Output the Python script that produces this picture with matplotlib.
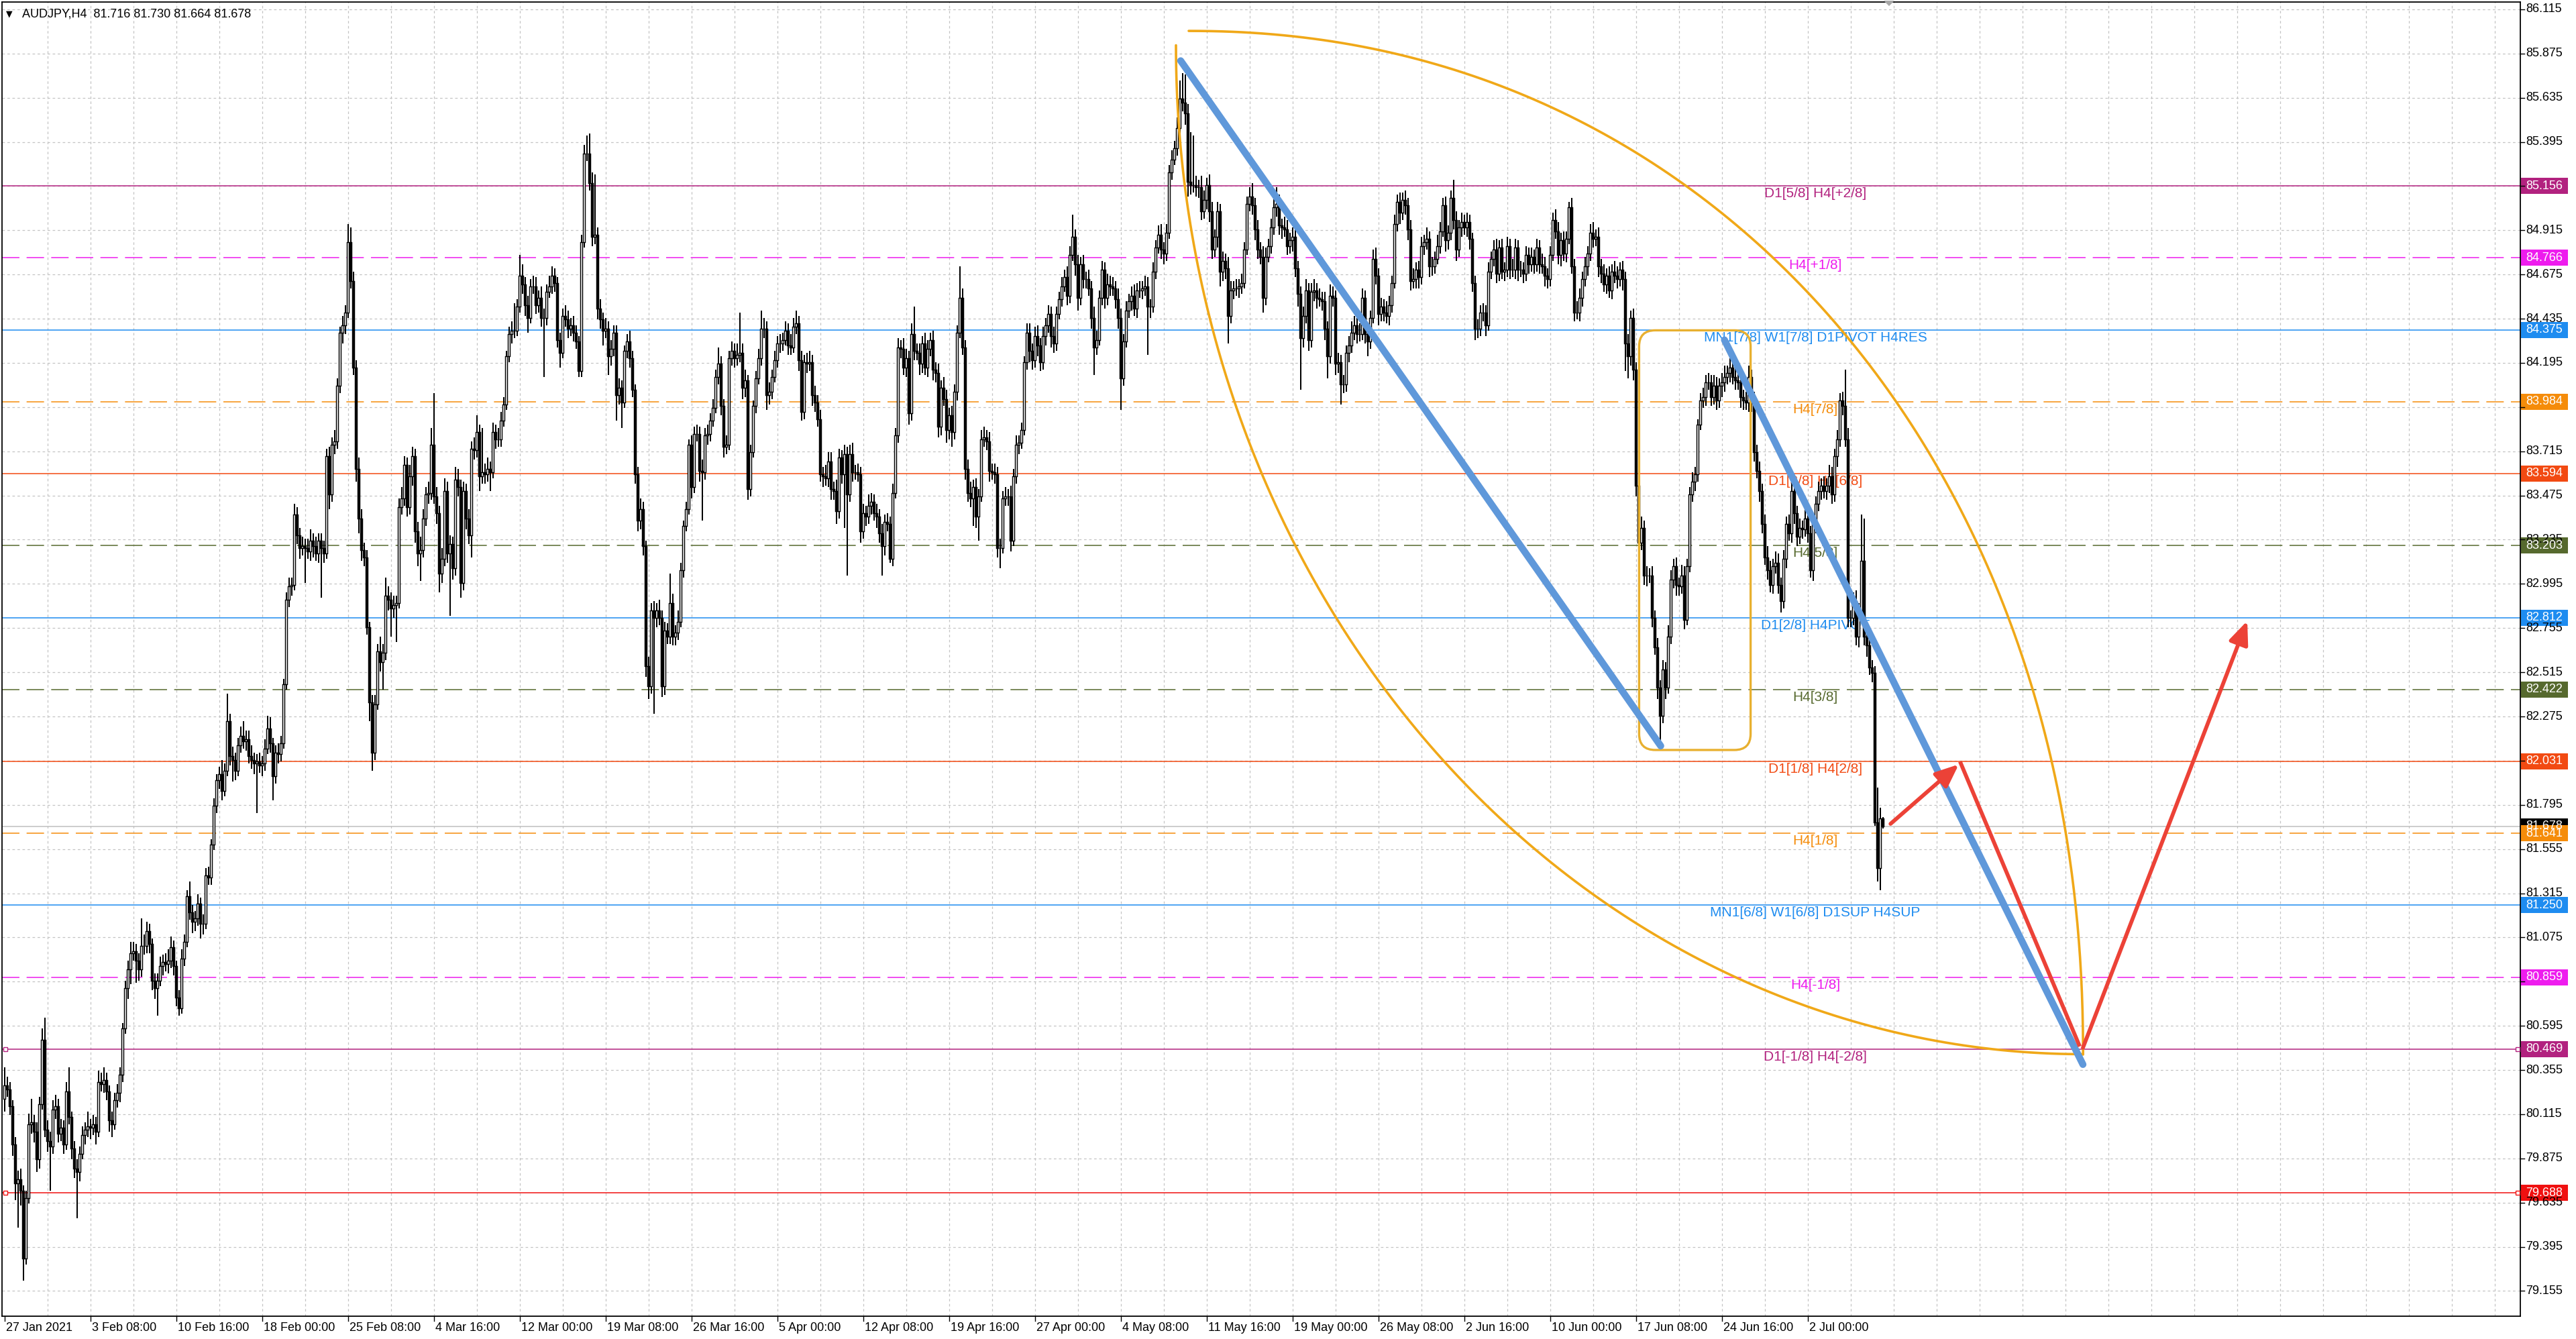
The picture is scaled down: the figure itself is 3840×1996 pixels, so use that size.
import numpy as np
import matplotlib
matplotlib.use("Agg")
import matplotlib.pyplot as plt
from matplotlib.patches import Rectangle, FancyBboxPatch, Polygon
import matplotlib.transforms as mtransforms

W, H, DPI = 3840, 1996, 100
FONT = "Liberation Sans"

# ---------------- data (AUDJPY H4 candles, bar index 0..700) ----------------
OPEN0 = 80.20
CLOSE_A = [80.27, 80.25, 80.16, 79.95, 79.74, 79.76, 79.70, 79.33, 79.66, 80.06,
           80.07, 80.02, 79.87, 80.17, 80.52, 80.03, 79.97, 79.94, 80.14, 80.16,
           80.01, 80.04, 79.95, 80.24, 80.10, 79.93, 79.82, 79.80, 79.90, 80.00,
           80.03, 80.05, 80.04, 80.06, 80.02, 80.29, 80.28, 80.30, 80.24, 80.08,
           80.06, 80.19, 80.23, 80.33, 80.58, 80.80, 80.90, 80.99, 81.00, 80.95,
           80.90, 81.03, 81.03, 81.11, 81.04, 80.84, 80.80, 80.84, 80.92, 80.94,
           80.93, 80.95, 81.02, 80.92, 80.75, 80.69, 80.96, 81.05, 81.30, 81.21,
           81.16, 81.18, 81.26, 81.15, 81.15, 81.41, 81.40, 81.58, 81.79, 81.93,
           81.96, 81.87, 81.98, 82.25, 82.06, 82.04, 81.98, 82.12, 82.17, 82.14,
           82.15, 82.06, 82.04, 82.02, 82.03, 82.01, 82.02, 82.10, 82.21, 82.13,
           81.95, 82.08, 82.07, 82.13, 82.45, 82.91, 82.98, 82.99, 83.37, 83.26,
           83.19, 83.20, 83.19, 83.17, 83.23, 83.20, 83.16, 83.23, 83.19, 83.16,
           83.69, 83.48, 83.75, 83.77, 84.07, 84.36, 84.40, 84.47, 84.85, 84.64,
           84.17, 83.62, 83.35, 83.18, 83.14, 82.76, 82.35, 82.08, 82.34, 82.63,
           82.57, 82.62, 82.93, 82.91, 82.86, 82.88, 82.89, 83.41, 83.46, 83.64,
           83.41, 83.58, 83.69, 83.28, 83.16, 83.18, 83.35, 83.48, 83.49, 83.75,
           83.47, 83.38, 83.05, 83.13, 83.50, 83.16, 83.21, 83.08, 83.56, 83.52,
           83.00, 83.50, 83.35, 83.26, 83.73, 83.72, 83.82, 83.58]
CLOSE_B = [83.60, 83.59, 83.62, 83.60, 83.82, 83.78, 83.78, 83.88, 83.97, 84.23,
           84.35, 84.37, 84.37, 84.50, 84.67, 84.62, 84.51, 84.44, 84.61, 84.61,
           84.51, 84.55, 84.44, 84.44, 84.58, 84.61, 84.67, 84.63, 84.32, 84.25,
           84.45, 84.43, 84.38, 84.40, 84.36, 84.31, 84.15, 84.85, 85.33, 85.33,
           85.17, 84.88, 84.89, 84.49, 84.43, 84.37, 84.38, 84.23, 84.27, 84.36,
           84.02, 84.06, 83.98, 84.26, 84.31, 84.22, 84.05, 83.59, 83.34, 83.40,
           83.20, 82.55, 82.44, 82.85, 82.81, 82.85, 82.81, 82.44, 82.74, 82.71,
           82.89, 82.71, 82.73, 82.79, 83.07, 83.31, 83.40, 83.75, 83.52, 83.81,
           83.81, 83.61, 83.60, 83.80, 83.81, 83.88, 83.95, 84.12, 84.19, 83.96,
           83.74, 83.75, 84.22, 84.26, 84.22, 84.24, 84.25, 84.06, 84.10, 83.51,
           83.71, 83.96, 84.11, 84.22, 84.38, 84.38, 84.02, 84.04, 84.12, 84.21,
           84.30, 84.30, 84.32, 84.37, 84.29, 84.28, 84.39, 84.41, 84.21, 83.93,
           84.20, 84.19, 84.20, 84.02, 83.98, 83.89, 83.59, 83.58, 83.57, 83.66,
           83.51, 83.50, 83.39, 83.68, 83.59, 83.70, 83.48, 83.70, 83.60, 83.60,
           83.59, 83.28, 83.38, 83.36, 83.42, 83.44, 83.38, 83.36, 83.27, 83.20,
           83.33, 83.32, 83.13, 83.49, 83.80, 84.28, 84.27, 84.17, 84.22, 83.92,
           84.35, 84.26, 84.25, 84.19, 84.30, 84.17, 84.27, 84.32, 84.16, 84.14,
           83.85, 84.06, 84.00, 83.83, 83.91]
CLOSE_C = [83.82, 84.04, 84.36, 84.55, 84.28, 83.62, 83.49, 83.46, 83.52, 83.36,
           83.47, 83.78, 83.79, 83.77, 83.61, 83.60, 83.59, 83.19, 83.19, 83.46,
           83.47, 83.47, 83.23, 83.58, 83.75, 83.76, 83.83, 84.20, 84.36, 84.26,
           84.21, 84.34, 84.29, 84.20, 84.34, 84.40, 84.46, 84.34, 84.30, 84.46,
           84.54, 84.61, 84.66, 84.56, 84.78, 84.88, 84.73, 84.55, 84.73, 84.65,
           84.65, 84.60, 84.44, 84.28, 84.32, 84.55, 84.70, 84.55, 84.62, 84.61,
           84.60, 84.54, 84.44, 84.11, 84.31, 84.48, 84.53, 84.56, 84.49, 84.59,
           84.59, 84.60, 84.61, 84.50, 84.50, 84.69, 84.82, 84.89, 84.81, 84.79,
           84.90, 85.23, 85.30, 85.36, 85.47, 85.63, 85.61, 85.55, 85.18, 85.16,
           85.16, 85.15, 85.15, 85.02, 85.08, 85.16, 85.02, 84.81, 84.88, 85.02,
           84.69, 84.75, 84.71, 84.45, 84.59, 84.60, 84.60, 84.61, 84.63, 84.81,
           85.06, 85.10, 85.05, 84.92, 84.81, 84.77, 84.55, 84.77, 84.83, 84.93,
           85.04, 85.06, 84.94, 84.93, 84.92, 84.83, 84.86, 84.88, 84.71, 84.57,
           84.33, 84.45, 84.59, 84.32, 84.58, 84.59, 84.55, 84.54, 84.53, 84.38,
           84.23, 84.56, 84.55, 84.19, 84.20, 84.08, 84.08, 84.25, 84.29, 84.36,
           84.40, 84.35, 84.35, 84.55, 84.35, 84.31, 84.44, 84.76, 84.67, 84.46,
           84.50, 84.47, 84.45, 84.51, 84.63, 84.95, 85.07, 85.01, 85.08, 85.05,
           84.92, 84.64, 84.65, 84.70, 84.66]
CLOSE_D = [84.83, 84.85, 84.87, 84.72, 84.72, 84.76, 84.83, 84.91, 85.05, 84.86,
           84.90, 85.09, 84.97, 84.81, 84.93, 84.96, 84.93, 84.96, 84.87, 84.63,
           84.38, 84.38, 84.47, 84.47, 84.40, 84.69, 84.76, 84.81, 84.68, 84.82,
           84.69, 84.70, 84.83, 84.70, 84.70, 84.82, 84.70, 84.70, 84.68, 84.78,
           84.73, 84.77, 84.73, 84.82, 84.73, 84.72, 84.67, 84.65, 84.78, 84.97,
           84.91, 84.78, 84.86, 84.79, 84.87, 85.04, 84.72, 84.47, 84.47, 84.55,
           84.65, 84.72, 84.79, 84.90, 84.87, 84.88, 84.72, 84.68, 84.62, 84.67,
           84.59, 84.69, 84.67, 84.65, 84.70, 84.65, 84.30, 84.23, 84.44, 84.16,
           83.53, 83.22, 83.30, 83.04, 83.04, 83.04, 82.81, 82.65, 82.43, 82.28,
           82.53, 82.43, 82.71, 83.02, 83.09, 82.99, 82.98, 83.04, 82.80, 83.09,
           83.48, 83.55, 83.59, 83.86, 83.99, 84.01, 84.09, 84.09, 84.01, 84.07,
           83.99, 84.07, 84.09, 84.12, 84.14, 84.17, 84.12, 84.10, 84.09, 84.01,
           83.99, 83.98, 84.12, 83.99, 83.71, 83.61, 83.50, 83.32, 83.14, 83.07,
           82.99, 83.09, 83.11, 82.99, 82.90, 83.13, 83.32, 83.27, 83.50, 83.38,
           83.25, 83.30, 83.29, 83.35, 83.27, 83.07, 83.32, 83.43, 83.50, 83.53,
           83.50, 83.53, 83.58, 83.48, 83.69, 83.78, 83.99, 83.96, 83.78, 82.81,
           82.81, 82.90, 82.71, 82.84, 83.12, 82.71, 82.66, 82.54, 82.51, 81.70,
           81.45, 81.72, 81.678]

# upper / lower shadow lengths, in hundredths of a yen
UP_A = [10,5,4,3,4,5,6,3,4,6, 13,4,5,4,6,12,5,5,5,6, 4,5,4,5,13,3,4,5,4,5,
        4,8,4,5,4,6,5,7,4,3, 5,4,5,4,3,4,5,6,5,4, 4,15,6,5,4,3,4,4,5,4,
        5,6,6,4,3,4,5,4,3,8, 4,4,5,3,5,4,5,3,4,3, 4,8,4,15,4,5,4,4,5,8,
        5,5,6,4,4,5,4,5,7,6, 3,4,5,4,3,4,5,4,6,4, 4,5,4,5,6,4,5,4,4,4,
        4,5,4,6,4,3,5,4,10,8, 5,4,6,5,4,4,3,4,5,4, 8,5,10,5,4,5,4,5,6,5,
        4,6,5,4,5,7,5,4,6,9, 28,5,4,6,7,5,5,4,7,6, 4,5,4,5,4,6,9,4]
DN_A = [7,4,5,6,9,24,8,12,3,3, 5,6,7,5,3,4,6,24,4,5, 5,4,5,3,4,6,5,25,5,3,
        5,4,6,4,7,3,4,5,5,6, 7,3,4,5,4,3,6,8,4,12, 6,4,5,4,5,5,6,15,3,5,
        4,5,4,5,5,4,3,4,3,4, 6,5,4,8,6,3,4,4,3,4, 5,5,3,3,5,12,5,3,4,4,
        5,4,5,6,27,4,6,4,3,5, 13,4,5,4,3,3,4,5,3,5, 6,4,19,4,5,6,4,5,27,5,
        3,8,4,5,4,4,6,5,3,4, 4,7,8,6,5,4,10,10,4,3, 5,15,4,6,15,5,20,3,4,4,
        5,4,5,6,7,15,4,4,5,4, 4,6,10,5,4,5,34,6,4,5, 8,4,6,5,12,5,4,8]
UP_B = [24,5,6,4,5,4,6,5,4,3, 4,5,15,4,11,6,4,5,4,6, 5,4,6,5,4,6,5,4,3,4,
        4,6,5,4,5,4,3,4,5,10, 11,6,33,4,5,4,6,4,5,4, 4,5,4,3,4,6,4,3,4,6,
        4,3,5,4,5,4,6,4,5,4, 16,5,4,6,4,3,4,3,5,4, 5,4,6,4,5,4,5,4,9,4,
        4,5,4,5,4,6,22,5,6,3, 4,3,4,5,10,6,4,5,4,5, 4,5,4,5,4,6,5,7,4,5,
        4,5,6,4,5,4,5,4,6,5, 5,4,6,5,4,5,4,5,6,4, 5,4,5,4,6,5,4,5,4,5,
        4,5,4,5,4,5,4,6,5,4, 6,15,4,5,4,6,5,4,5,4, 5,4,6,5,4]
DN_B = [4,5,4,10,3,5,4,4,3,3, 3,5,4,3,3,5,6,8,3,4, 5,4,5,32,4,3,4,5,4,8,
        3,4,5,4,5,4,3,3,3,4, 4,5,4,6,5,8,4,10,5,4, 14,5,14,3,4,5,4,5,6,5,
        5,6,7,4,52,5,4,6,5,4, 4,5,5,4,3,4,3,3,6,3, 4,6,26,4,5,4,3,3,4,5,
        6,4,3,4,5,4,4,6,5,6, 4,3,4,3,4,5,8,5,4,3, 4,5,4,3,5,4,3,4,6,5,
        4,5,4,6,5,4,4,6,4,5, 6,5,7,4,5,29,44,4,5,4, 4,6,4,5,4,5,4,6,5,16,
        5,4,2,4,3,4,5,4,5,6, 4,5,4,6,5,4,5,4,6,5, 6,5,4,7,5]
UP_C = [5,4,4,17,5,4,5,6,4,5, 4,5,6,4,5,4,5,4,5,4, 5,4,6,4,5,4,4,3,5,5,
        4,5,6,4,5,4,5,4,5,4, 4,5,4,6,5,12,4,5,4,5, 4,5,4,6,5,4,5,4,6,5,
        5,4,6,5,4,5,4,5,6,4, 5,4,6,5,4,5,4,5,6,4, 5,4,5,4,6,10,14,15,5,27,
        27,5,4,6,5,4,6,5,4,5, 4,5,4,6,5,4,5,4,5,4, 4,5,7,4,5,4,6,5,4,5,
        5,9,5,4,6,5,4,5,6,4, 4,5,6,4,5,6,4,5,4,5, 4,6,5,4,5,4,5,4,5,6,
        5,4,6,5,4,5,4,5,6,4, 5,4,6,5,4,5,4,5,4,5, 4,5,6,4,5]
DN_C = [8,4,5,3,4,6,5,5,15,6, 13,3,4,5,6,4,5,5,11,3, 4,5,6,3,4,5,3,3,4,6,
        5,4,6,5,4,5,4,6,5,4, 3,4,3,5,4,3,6,7,4,5, 5,4,6,15,4,3,4,6,4,5,
        4,5,6,17,4,3,4,5,4,5, 4,5,4,26,6,3,4,3,5,6, 4,3,4,3,4,3,5,6,8,5,
        4,5,6,5,4,5,6,5,4,6, 8,5,6,15,4,5,4,5,4,3, 3,4,5,6,5,4,8,4,3,4,
        4,5,5,6,4,5,4,6,5,7, 28,5,4,6,4,5,6,4,5,6, 12,4,5,6,5,11,5,4,5,4,
        4,5,4,3,5,8,4,3,5,6, 4,5,4,5,4,3,4,6,4,5, 6,5,4,5,6]
UP_D = [5,4,6,4,5,4,6,5,4,5, 4,4,10,5,4,5,4,5,4,3, 4,5,4,5,4,5,4,5,6,4,
        5,4,5,4,6,5,4,5,4,5, 4,5,4,5,4,6,5,4,5,4, 6,5,4,5,4,3,5,4,6,5,
        4,5,4,5,6,4,5,4,5,4, 5,4,6,5,4,5,4,5,4,5, 4,5,6,4,5,4,5,4,5,4,
        5,4,6,5,4,5,4,6,5,4, 4,5,4,3,4,5,4,5,4,6, 5,4,5,6,4,5,4,5,6,4,
        4,5,6,4,5,4,5,4,5,6, 5,4,6,5,4,5,4,5,6,4, 4,5,4,5,6,4,5,4,5,4,
        5,4,6,5,4,5,4,5,20,6, 4,5,6,5,25,23,4,5,4,4, 19,6,1]
DN_D = [4,5,4,6,5,4,3,4,3,6, 5,4,5,6,4,5,4,5,6,5, 6,5,4,5,6,3,4,4,5,4,
        4,5,4,5,4,5,6,4,5,4, 5,4,5,4,5,4,6,5,4,3, 4,5,6,4,5,3,4,5,4,5,
        5,4,5,4,5,4,6,5,4,5, 4,5,4,5,4,6,15,12,5,6, 6,5,4,5,6,4,5,4,6,16,
        4,6,3,4,5,6,5,4,5,3, 3,4,5,4,3,4,5,4,5,4, 5,4,6,5,4,5,4,5,4,6,
        5,4,5,6,5,4,6,5,4,5, 4,5,4,5,6,4,5,4,5,6, 5,4,5,4,5,4,6,5,4,5,
        4,5,4,5,4,6,4,5,4,5, 5,4,5,6,4,5,6,4,5,2, 7,12,1]

# price grid ticks, and the tick labels that are not hidden by level boxes
PRICE_TICKS = [86.115, 85.875, 85.635, 85.395, 85.155, 84.915, 84.675, 84.435,
               84.195, 83.955, 83.715, 83.475, 83.235, 82.995, 82.755, 82.515,
               82.275, 82.035, 81.795, 81.555, 81.315, 81.075, 80.835, 80.595,
               80.355, 80.115, 79.875, 79.635, 79.395, 79.155]
PRICE_LABELS = [86.115, 85.875, 85.635, 85.395, 84.915, 84.675, 84.435,
                84.195, 83.715, 83.475, 83.235, 82.995, 82.755, 82.515,
                82.275, 81.795, 81.555, 81.315, 81.075, 80.595,
                80.355, 80.115, 79.875, 79.635, 79.395, 79.155]
DATE_LABELS = ["27 Jan 2021", "3 Feb 08:00", "10 Feb 16:00", "18 Feb 00:00",
               "25 Feb 08:00", "4 Mar 16:00", "12 Mar 00:00", "19 Mar 08:00",
               "26 Mar 16:00", "5 Apr 00:00", "12 Apr 08:00", "19 Apr 16:00",
               "27 Apr 00:00", "4 May 08:00", "11 May 16:00", "19 May 00:00",
               "26 May 08:00", "2 Jun 16:00", "10 Jun 00:00", "17 Jun 08:00",
               "24 Jun 16:00", "2 Jul 00:00"]
DATE_BARS = [0, 32, 64, 96, 128, 160, 192, 224, 256, 288, 320, 352, 384, 416,
             448, 480, 512, 544, 576, 608, 640, 672]

LEVELS = [85.156, 84.766, 84.375, 83.984, 83.594, 83.203, 82.812, 82.422,
          82.031, 81.641, 81.250, 80.859, 80.469, 79.688]
LEVEL_TEXT = ["D1[5/8] H4[+2/8]", "H4[+1/8]", "MN1[7/8] W1[7/8] D1PIVOT H4RES",
              "H4[7/8]", "D1[3/8] H4[6/8]", "H4[5/8]", "D1[2/8] H4PIVOT",
              "H4[3/8]", "D1[1/8] H4[2/8]", "H4[1/8]",
              "MN1[6/8] W1[6/8] D1SUP H4SUP", "H4[-1/8]", "D1[-1/8] H4[-2/8]", ""]
LEVEL_COLOR = ["#B2227F", "#EE1CEE", "#1E8CF0", "#F58C0A", "#F24A12", "#56692E",
               "#1E8CF0", "#56692E", "#F24A12", "#F58C0A", "#1E8CF0", "#EE1CEE",
               "#B2227F", "#F01010"]
LEVEL_DASHED = [False, True, False, True, False, True, False, True,
                False, True, False, True, False, False]
LAST_PRICE = 81.678

# drawn objects (bar index, price)
BLUE_LINES = [((438.35, 85.836), (617.25, 82.115)),
              ((641.0, 84.320), (774.6, 80.385))]
RECT = (609.2, 82.093, 650.75, 84.372)
OUTER_ARC = (441.35, 80.439, 333.3, 5.559)   # centre x, centre y, semi-x, semi-y
INNER_ARC = (774.6, 85.920, 338.0, 5.479)
RED_ARROW1 = ((702.9, 81.692), (728.35, 82.015))
RED_LINE = ((728.8, 82.03), (773.4, 80.483))
RED_ARROW2 = ((774.6, 80.476), (835.85, 82.794))

# ---------------- build series ----------------
c = np.array(CLOSE_A + CLOSE_B + CLOSE_C + CLOSE_D)
up = np.array(UP_A + UP_B + UP_C + UP_D) / 100.0
dn = np.array(DN_A + DN_B + DN_C + DN_D) / 100.0
o = np.concatenate([[OPEN0], c[:-1]])
hi = np.maximum(o, c) + up
lo = np.minimum(o, c) - dn
x = np.arange(len(c))

# ---------------- figure ----------------
fig = plt.figure(figsize=(W / DPI, H / DPI), dpi=DPI)
fig.patch.set_facecolor("white")


def fx(px):
    return px / W


def fy(py):
    return 1 - py / H


ax = fig.add_axes([fx(3), fy(1962), fx(3757) - fx(3), fy(3) - fy(1962)])
ax.set_xlim(-0.9, 937.6)
ax.set_ylim(79.018, 86.155)
ax.set_xticks([])
ax.set_yticks([])
ax.set_facecolor("white")
for s in ax.spines.values():
    s.set_color("black")
    s.set_linewidth(1.3)

# grid
for p in PRICE_TICKS:
    ax.axhline(p, color="#C4C4C4", lw=0.9, ls=(0, (3, 3)), zorder=0)
for b in range(16, 937, 16):
    ax.axvline(b, color="#C4C4C4", lw=0.9, ls=(0, (3, 3)), zorder=0)

# level lines
for lv, col, dsh in zip(LEVELS, LEVEL_COLOR, LEVEL_DASHED):
    if dsh:
        ax.axhline(lv, color=col, lw=1.1, ls=(0, (17, 7)), zorder=1)
    else:
        ax.axhline(lv, color=col, lw=1.1, zorder=1)
ax.axhline(LAST_PRICE, color="#C0C0C0", lw=1.1, zorder=1)

# level labels
for lv, txt, col in zip(LEVELS, LEVEL_TEXT, LEVEL_COLOR):
    if txt:
        ax.text(674.85, lv - 0.042, txt, color=col, fontsize=15, family=FONT,
                ha="center", va="center", zorder=2)

# candles
bull = c >= o
ax.vlines(x, lo, hi, color="black", lw=1.45, zorder=3)
ax.bar(x[bull], (c - o)[bull], bottom=o[bull], width=0.74, color="white",
       edgecolor="black", linewidth=1.05, zorder=4)
ax.bar(x[~bull], (c - o)[~bull], bottom=o[~bull], width=0.74, color="black",
       edgecolor="black", linewidth=1.05, zorder=4)

# gold arcs
GOLD = "#F0A818"
t = np.linspace(0, np.pi / 2, 300)
cx, cy, ra, rb = OUTER_ARC
ax.plot(cx + ra * np.sin(t) ** (2 / 2.1), cy + rb * np.cos(t) ** (2 / 2.1),
        color=GOLD, lw=2.6, zorder=5, solid_capstyle="round")
cx, cy, ra, rb = INNER_ARC
ax.plot(cx - ra * np.cos(t), cy - rb * np.sin(t), color=GOLD, lw=2.6, zorder=5,
        solid_capstyle="round")

# rounded rectangle
x0, y0, x1, y1 = RECT
rect = FancyBboxPatch((x0, y0), x1 - x0, y1 - y0,
                      boxstyle="round,pad=0,rounding_size=6",
                      mutation_aspect=0.01457, fill=False, ec="#E8B030",
                      lw=2.4, zorder=5)
ax.add_patch(rect)

# blue lines
for (a, b) in BLUE_LINES:
    ax.plot([a[0], b[0]], [a[1], b[1]], color="#5F98DA", lw=7.5, zorder=6,
            solid_capstyle="round")

# red arrows
RED = "#EC4237"
ax.annotate("", xy=RED_ARROW1[1], xytext=RED_ARROW1[0],
            arrowprops=dict(arrowstyle="-|>,head_length=1.3,head_width=0.55",
                            color=RED, lw=4.2, shrinkA=0, shrinkB=0,
                            mutation_scale=16), zorder=7)
ax.plot([RED_LINE[0][0], RED_LINE[1][0]], [RED_LINE[0][1], RED_LINE[1][1]],
        color=RED, lw=4.2, zorder=7, solid_capstyle="butt")
ax.annotate("", xy=RED_ARROW2[1], xytext=RED_ARROW2[0],
            arrowprops=dict(arrowstyle="-|>,head_length=1.3,head_width=0.55",
                            color=RED, lw=4.2, shrinkA=0, shrinkB=0,
                            mutation_scale=16), zorder=7)

# small anchor squares on selected lines
for lv, col in [(80.469, "#B2227F"), (79.688, "#F01010")]:
    ax.plot([0.3, 936.6], [lv, lv], ls="none", marker="s", ms=4, mfc="white",
            mec=col, mew=1.0, zorder=6, clip_on=False)

# ---------------- right price scale ----------------
ytr = mtransforms.blended_transform_factory(fig.transFigure, ax.transData)
for p in PRICE_TICKS:
    fig.add_artist(plt.Line2D([fx(3757), fx(3763)], [p, p], transform=ytr,
                              color="black", lw=1.0))
for p in PRICE_LABELS:
    fig.text(fx(3765), p, f"{p:.3f}", transform=ytr, fontsize=13, family=FONT,
             color="black", ha="left", va="center")

box_h = 24 / 274.5


def price_box(p, col, txtcol="white"):
    fig.add_artist(Rectangle((fx(3758), p - box_h / 2), fx(3828) - fx(3758),
                             box_h, transform=ytr, fc=col, ec="none"))
    fig.text(fx(3765), p, f"{p:.3f}", transform=ytr, fontsize=13, family=FONT,
             color=txtcol, ha="left", va="center")


order = [0, 1, 2, 3, 4, 5, 6, 7, 8, 10, 11, 12, 13]
for i in order:
    price_box(LEVELS[i], LEVEL_COLOR[i])
price_box(LAST_PRICE, "black")
price_box(LEVELS[9], LEVEL_COLOR[9])

# ---------------- time scale ----------------
xtr = mtransforms.blended_transform_factory(ax.transData, fig.transFigure)
for b, lab in zip(DATE_BARS, DATE_LABELS):
    fig.add_artist(plt.Line2D([b, b], [fy(1962), fy(1969)], transform=xtr,
                              color="black", lw=1.0))
    fig.text(b + 0.6, fy(1980), lab, transform=xtr, fontsize=13, family=FONT,
             color="black", ha="left", va="center")

# ---------------- header ----------------
fig.text(fx(9), fy(21), "\u25BC", fontsize=9, family="DejaVu Sans",
         color="black", ha="left", va="center")
fig.text(fx(33), fy(21), "AUDJPY,H4  81.716 81.730 81.664 81.678", fontsize=13,
         family=FONT, color="black", ha="left", va="center")

# chart shift marker
fig.add_artist(Polygon([[fx(2808), fy(1)], [fx(2824), fy(1)], [fx(2816), fy(9)]],
                       closed=True, fc="#A8A8A8", ec="none",
                       transform=fig.transFigure))

fig.savefig("out.png", dpi=DPI, facecolor="white")
